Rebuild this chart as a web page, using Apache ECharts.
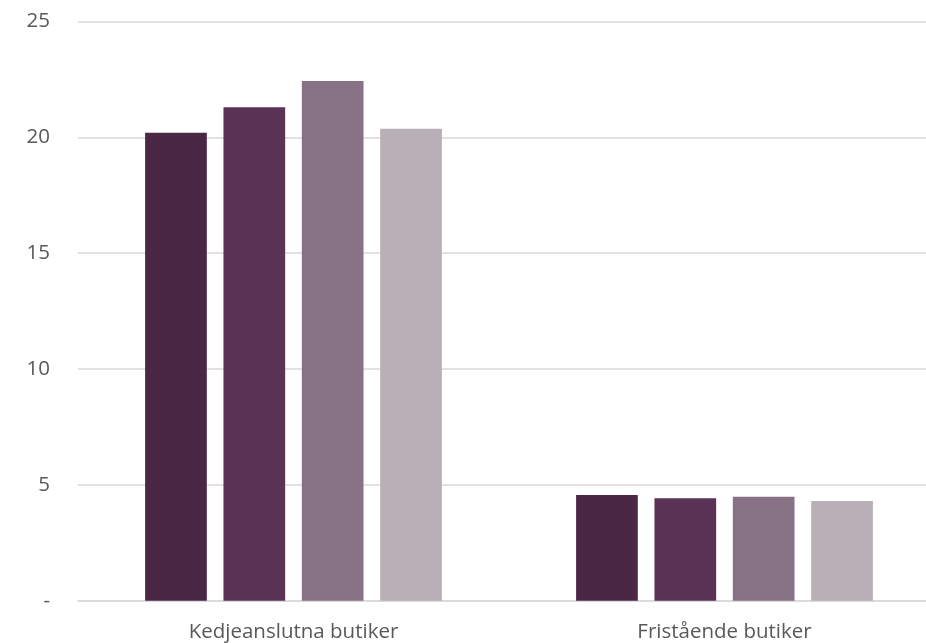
<!DOCTYPE html>
<html>
<head>
<meta charset="utf-8">
<script src="https://cdn.jsdelivr.net/npm/echarts@6/dist/echarts.min.js"></script>
<style>
  html, body { margin: 0; padding: 0; background: #ffffff; }
  #chart { width: 926px; height: 643px; }
</style>
</head>
<body>
<div id="chart"></div>
<script>
// Butikskategorier och värden per serie
const categories = ['Kedjeanslutna butiker', 'Fristående butiker'];
const seriesA = [20.2, 4.56];
const seriesB = [21.3, 4.42];
const seriesC = [22.43, 4.49];
const seriesD = [20.37, 4.3];
const seriesNames = ['A', 'B', 'C', 'D'];
const seriesColors = ['#4a2745', '#5a3256', '#877285', '#b9afb7'];
const yTicks = [0, 5, 10, 15, 20, 25];

const allSeries = [seriesA, seriesB, seriesC, seriesD];
const font = '"Open Sans", "Noto Sans", sans-serif';

const chart = echarts.init(document.getElementById('chart'));
chart.setOption({
  animation: false,
  // plot area runs slightly past the right edge of the canvas
  grid: {
    left: 78, width: 862, top: 21.5, height: 579.2,
    containLabel: false, outerBoundsMode: 'none'
  },
  xAxis: {
    type: 'category',
    data: categories,
    axisLine: { show: true, lineStyle: { color: '#d9d9d9', width: 1.5 } },
    axisTick: { show: false },
    axisLabel: { color: '#595959', fontSize: 20.5, fontFamily: font, margin: 21 }
  },
  yAxis: {
    type: 'value',
    min: yTicks[0],
    max: yTicks[yTicks.length - 1],
    interval: 5,
    axisLine: { show: false },
    axisTick: { show: false },
    splitLine: { lineStyle: { color: '#d9d9d9', width: 1.5 } },
    axisLabel: {
      color: '#595959', fontSize: 20.5, fontFamily: font, margin: 28,
      formatter: v => (v === 0 ? '-' : String(v))
    }
  },
  series: allSeries.map((d, i) => ({
    name: seriesNames[i],
    type: 'bar',
    data: d,
    barWidth: 61.7,
    barGap: '27%',
    itemStyle: { color: seriesColors[i] }
  }))
});
</script>
</body>
</html>
